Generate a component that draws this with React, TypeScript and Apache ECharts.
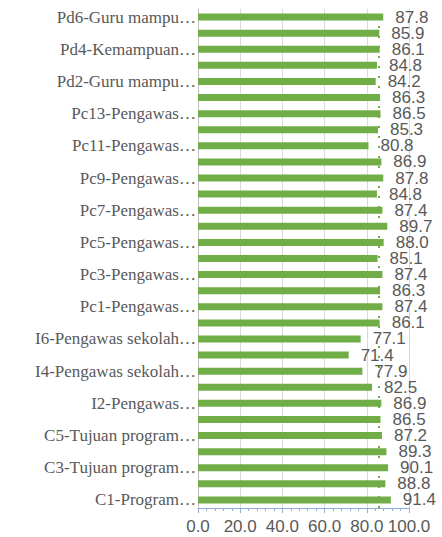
import React, { useEffect, useRef } from "react";
import * as echarts from "echarts";

const categories = [
  "C1-Program…", "C2", "C3-Tujuan program…", "C4", "C5-Tujuan program…", "I1",
  "I2-Pengawas…", "I3", "I4-Pengawas sekolah…", "I5", "I6-Pengawas sekolah…", "I7",
  "Pc1-Pengawas…", "Pc2", "Pc3-Pengawas…", "Pc4", "Pc5-Pengawas…", "Pc6",
  "Pc7-Pengawas…", "Pc8", "Pc9-Pengawas…", "Pc10", "Pc11-Pengawas…", "Pc12",
  "Pc13-Pengawas…", "Pd1", "Pd2-Guru mampu…", "Pd3", "Pd4-Kemampuan…", "Pd5",
  "Pd6-Guru mampu…",
];

const values = [
  91.4, 88.8, 90.1, 89.3, 87.2, 86.5, 86.9, 82.5, 77.9, 71.4, 77.1, 86.1,
  87.4, 86.3, 87.4, 85.1, 88.0, 89.7, 87.4, 84.8, 87.8, 86.9, 80.8, 85.3,
  86.5, 86.3, 84.2, 84.8, 86.1, 85.9, 87.8,
];

const xTicks = { min: 0, max: 100, interval: 20 };

export default function App() {
  const ref = useRef<HTMLDivElement>(null);
  useEffect(() => {
    if (!ref.current) return;
    const chart = echarts.init(ref.current, undefined, { renderer: "svg" });
    chart.setOption({
      animation: false,
      grid: { left: 198, right: 33, top: 9, bottom: 29, containLabel: false },
      xAxis: {
        type: "value",
        min: xTicks.min,
        max: xTicks.max,
        interval: xTicks.interval,
        axisLine: { show: true, lineStyle: { color: "#8faadc", width: 1 } },
        axisTick: { show: true, inside: false, length: 5, lineStyle: { color: "#8faadc" } },
        minorTick: { show: true, splitNumber: 5, length: 3, lineStyle: { color: "#8faadc" } },
        splitLine: { show: true, lineStyle: { color: "#d9d9d9", width: 1 } },
        axisLabel: {
          formatter: (v: number) => v.toFixed(1),
          color: "#595959",
          fontFamily: "Liberation Sans, Arial, sans-serif",
          fontSize: 17,
          margin: 10,
        },
      },
      yAxis: {
        type: "category",
        data: categories,
        axisLine: { show: true, lineStyle: { color: "#bfbfbf", width: 1 } },
        axisTick: { show: false },
        axisLabel: {
          interval: 1,
          color: "#595959",
          fontFamily: "Liberation Serif, Times New Roman, serif",
          fontSize: 17,
          margin: 2,
        },
      },
      series: [
        {
          type: "bar",
          data: values,
          barWidth: 7,
          z: 3,
          itemStyle: { color: "#70ad47" },
          label: {
            show: true,
            position: "right",
            distance: 12,
            formatter: (p: any) => Number(p.value).toFixed(1),
            color: "#595959",
            fontFamily: "Liberation Sans, Arial, sans-serif",
            fontSize: 17,
          },
          markLine: {
            silent: true,
            symbol: "none",
            label: { show: false },
            lineStyle: { color: "#70ad47", type: [2, 8], width: 2 },
            data: [{ type: "average" }],
            z: 1,
          },
        },
      ],
    });
    return () => chart.dispose();
  }, []);
  return (
    <div
      ref={ref}
      style={{ position: "absolute", left: 0, top: 0, width: 442, height: 537 }}
    />
  );
}
